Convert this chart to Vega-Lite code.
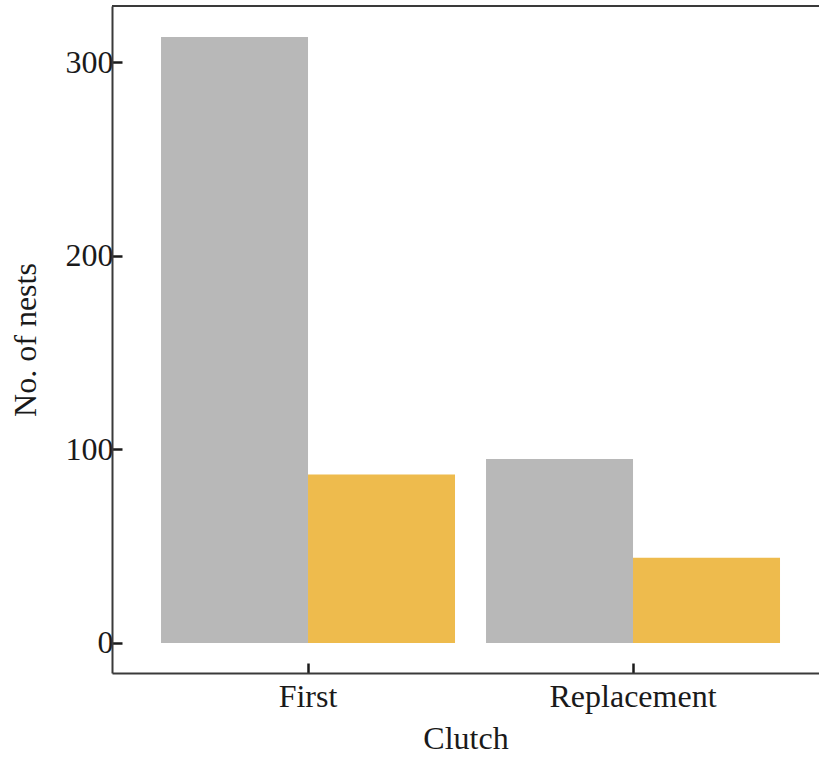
{
  "$schema": "https://vega.github.io/schema/vega-lite/v6.json",
  "autosize": "none",
  "width": 707,
  "height": 667,
  "padding": {"left": 112, "top": 6, "right": 0, "bottom": 85},
  "background": "white",
  "config": {
    "view": {"stroke": null},
    "font": "Liberation Serif",
    "axis": {
      "labelFont": "Liberation Serif",
      "titleFont": "Liberation Serif",
      "labelFontSize": 32,
      "titleFontSize": 32,
      "labelColor": "#1a1a1a",
      "titleColor": "#1a1a1a",
      "titleFontWeight": "normal",
      "domainColor": "#3a3a3a",
      "domainWidth": 2,
      "tickColor": "#1a1a1a",
      "tickWidth": 2.5,
      "grid": false
    }
  },
  "data": {
    "values": [
      {"clutch": "First", "group": "Nests found", "nests": 313},
      {"clutch": "First", "group": "Nests successful", "nests": 87},
      {"clutch": "Replacement", "group": "Nests found", "nests": 95},
      {"clutch": "Replacement", "group": "Nests successful", "nests": 44}
    ]
  },
  "layer": [
    {
      "mark": {"type": "bar"},
      "encoding": {
        "x": {
          "field": "clutch",
          "type": "nominal",
          "sort": ["First", "Replacement"],
          "scale": {"paddingInner": 0.0954, "paddingOuter": 0.1354, "align": 0.557, "round": false},
          "axis": {
            "title": "Clutch",
            "labelAngle": 0,
            "tickSize": -10,
            "labelPadding": 18,
            "titlePadding": 11
          }
        },
        "xOffset": {
          "field": "group",
          "type": "nominal",
          "sort": ["Nests found", "Nests successful"],
          "scale": {"paddingInner": 0, "paddingOuter": 0, "round": false}
        },
        "y": {
          "field": "nests",
          "type": "quantitative",
          "stack": null,
          "scale": {"domain": [-15.5, 329], "nice": false, "zero": false},
          "axis": {
            "title": "No. of nests",
            "values": [0, 100, 200, 300],
            "tickSize": -10,
            "labelPadding": 9,
            "titlePadding": 23
          }
        },
        "y2": {"datum": 0},
        "color": {
          "field": "group",
          "type": "nominal",
          "sort": ["Nests found", "Nests successful"],
          "scale": {"range": ["#b8b8b8", "#eebb4d"]},
          "legend": null
        }
      }
    },
    {
      "mark": {"type": "rule", "color": "#3a3a3a", "strokeWidth": 2},
      "encoding": {"y": {"datum": 329}}
    }
  ]
}
